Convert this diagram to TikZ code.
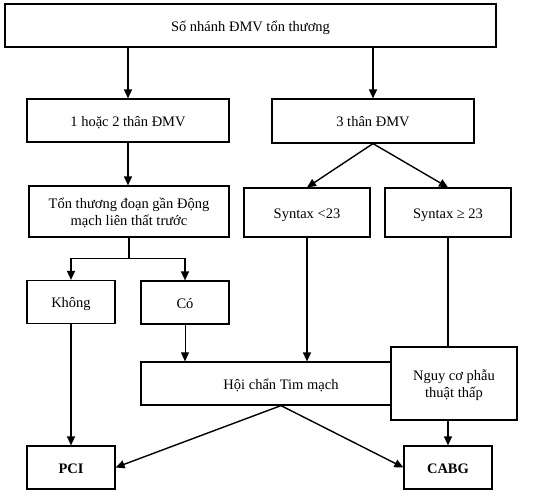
\documentclass[tikz,border=0pt]{standalone}
\usepackage{fontspec}
\setmainfont{Liberation Serif}
\usetikzlibrary{arrows.meta}
\begin{document}
\begin{tikzpicture}[x=1pt,y=-1pt,
  box/.style={draw, line width=1.2pt, fill=white, inner sep=0pt, align=center,
    text depth=0pt, font=\fontsize{14.5}{17.5}\selectfont},
  one/.style={text height=11pt},
  arr/.style={line width=1.4pt, -{Triangle[length=9pt,width=8pt]}},
  thinarr/.style={line width=0.8pt, -{Triangle[length=9pt,width=8pt]}},
  ln/.style={line width=1.4pt}]
\useasboundingbox (0,0) rectangle (542,498);
\node[box, one, minimum width=491pt, minimum height=43pt] (top) at (250.5,25.5) {Số nhánh ĐMV tổn thương};
\node[box, one, minimum width=202pt, minimum height=43pt] (n12) at (128,120.5) {1 hoặc 2 thân ĐMV};
\node[box, one, minimum width=202pt, minimum height=44pt] (n3) at (373,121) {3 thân ĐMV};
\node[box, minimum width=200pt, minimum height=51pt] (ton) at (129,211.5) {Tổn thương đoạn gần Động\\mạch liên thất trước};
\node[box, one, minimum width=126pt, minimum height=49pt] (s1) at (307,212.5) {Syntax <23};
\node[box, one, minimum width=126pt, minimum height=49pt] (s2) at (448,212.5) {Syntax ≥ 23};
\node[box, one, minimum width=88pt, minimum height=43pt] (khong) at (71,302) {Không};
\node[box, one, minimum width=88pt, minimum height=43pt] (co) at (185,302.5) {Có};
\node[box, one, minimum width=280pt, minimum height=43pt] (hoi) at (281,383.5) {Hội chẩn Tim mạch};
\node[box, minimum width=126pt, minimum height=73pt] (nguy) at (454,383.5) {Nguy cơ phẫu\\thuật thấp};
\node[box, one, minimum width=88pt, minimum height=43pt, font=\fontsize{14.5}{17.5}\selectfont\bfseries] (pci) at (71,467.5) {PCI};
\node[box, one, minimum width=88pt, minimum height=43pt, font=\fontsize{14.5}{17.5}\selectfont\bfseries] (cabg) at (448,467.5) {CABG};

\draw[arr] (top.south -| n12) -- (n12.north);
\draw[arr] (top.south -| n3) -- (n3.north);
\draw[arr] (n12.south) -- (ton.north -| n12);
\draw[arr] (n3.south) -- (s1.north);
\draw[arr] (n3.south) -- (s2.north);
\draw[arr] (ton.south) -- ++(0,21) -| (khong.north);
\draw[arr] (ton.south) -- ++(0,21) -| (co.north);
\draw[arr] (khong.south) -- (pci.north);
\draw[thinarr] (co.south) -- (co.south |- hoi.north);
\draw[arr] (s1.south) -- (s1.south |- hoi.north);
\draw[ln] (s2.south) -- (s2.south |- nguy.north);
\draw[arr] (cabg.north |- nguy.south) -- (cabg.north);
\draw[arr] (hoi.south) -- (pci.east);
\draw[arr] (hoi.south) -- (cabg.west);
\end{tikzpicture}
\end{document}
